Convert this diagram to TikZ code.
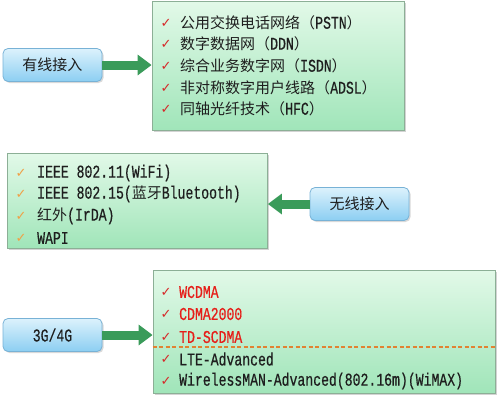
\documentclass[tikz,border=0pt]{standalone}
\usepackage{fontspec}
\setmainfont{Liberation Mono}[FakeStretch=0.73,FakeBold=0.5]
\newfontfamily\cjk{Noto Sans CJK SC}
\newfontfamily\symf{DejaVu Sans}
\usetikzlibrary{arrows.meta,shadows}
\definecolor{boxtop}{RGB}{226,249,232}
\definecolor{boxbot}{RGB}{160,229,185}
\definecolor{boxline}{RGB}{140,175,150}
\definecolor{bluetop}{RGB}{220,242,252}
\definecolor{bluebot}{RGB}{140,206,242}
\definecolor{blueline}{RGB}{120,178,214}
\definecolor{arrowgreen}{RGB}{58,155,90}
\definecolor{chkred}{RGB}{214,40,40}
\definecolor{chkorange}{RGB}{240,160,70}
\definecolor{txtred}{RGB}{230,30,25}
\definecolor{dashor}{RGB}{225,130,50}
\definecolor{txt}{RGB}{30,30,30}
\newcommand\zh[1]{{\cjk\fontsize{15}{16}\selectfont #1}}
\begin{document}
\begin{tikzpicture}[x=1pt,y=-1pt,
 listbox/.style={draw=boxline, line width=0.8pt, top color=boxtop, bottom color=boxbot,
   drop shadow={shadow xshift=1.5pt,shadow yshift=-1.5pt,opacity=0.35}, inner sep=0pt},
 catbox/.style={draw=blueline, line width=0.8pt, rounded corners=5pt, top color=bluetop,
   bottom color=bluebot, minimum width=99pt, minimum height=33pt, inner sep=0pt,
   drop shadow={shadow xshift=1.5pt,shadow yshift=-1.5pt,opacity=0.3}, text=txt,
   font=\fontsize{18}{19}\selectfont},
 bigarrow/.style={draw=arrowgreen, line width=9pt, -{Triangle[length=14pt,width=20pt]}},
 item/.style={anchor=west, inner sep=0pt, text=txt, font=\fontsize{18}{19}\selectfont},
 reditem/.style={item, text=txtred},
 chk/.style={inner sep=0pt, font=\symf\fontsize{13}{14}\selectfont, text=chkred},
 ochk/.style={chk, text=chkorange},
]
\useasboundingbox (0,0) rectangle (499,405);

% list boxes
\node[listbox, minimum width=252pt, minimum height=129pt] (b1) at (278,66) {};
\node[listbox, minimum width=260pt, minimum height=95pt] (b2) at (137.5,200.5) {};
\node[listbox, minimum width=342pt, minimum height=123pt] (b3) at (324,331.5) {};

% category nodes
\node[catbox] (n1) at (52.5,65) {\zh{有线接入}};
\node[catbox] (n2) at (359.5,204) {\zh{无线接入}};
\node[catbox] (n3) at (52.5,335) {3G/4G};

% arrows
\draw[bigarrow] (n1.east) -- (n1.east -| b1.west);
\draw[bigarrow] (n2.west) -- (n2.west -| b2.east);
\draw[bigarrow] (n3.east) -- (n3.east -| b3.west);

% box 1 items
\foreach \y/\k in {23/1,44/2,66/3,88/4,109/5} \node[chk] (c1\k) at (166,\y) {✓};
\node[item] (t11) at (180,23) {\zh{公用交换电话网络（}PSTN\zh{）}};
\node[item] (t12) at (180,44) {\zh{数字数据网（}DDN\zh{）}};
\node[item] (t13) at (180,66) {\zh{综合业务数字网（}ISDN\zh{）}};
\node[item] (t14) at (180,88) {\zh{非对称数字用户线路（}ADSL\zh{）}};
\node[item] (t15) at (180,109) {\zh{同轴光纤技术（}HFC\zh{）}};

% box 2 items
\foreach \y/\k in {173/1,194/2,216/3,238/4} \node[ochk] (c2\k) at (21,\y) {✓};
\node[item] (t21) at (37,173) {IEEE 802.11(WiFi)};
\node[item] (t22) at (37,194) {IEEE 802.15(\zh{蓝牙}Bluetooth)};
\node[item] (t23) at (37,216) {\zh{红外}(IrDA)};
\node[item] (t24) at (37,238) {WAPI};

% box 3 items
\foreach \y/\k in {292/1,314/2,337/3,359/4,381/5} \node[chk] (c3\k) at (166,\y) {✓};
\node[reditem] (t31) at (179,292) {WCDMA};
\node[reditem] (t32) at (179,314) {CDMA2000};
\node[reditem] (t33) at (179,337) {TD-SCDMA};
\node[item] (t34) at (179,359) {LTE-Advanced};
\node[item] (t35) at (179,381) {WirelessMAN-Advanced(802.16m)(WiMAX)};

% dashed separator
\draw[dashor, line width=1.2pt, dash pattern=on 4pt off 2.5pt] (b3.west |- 0,347) -- (b3.east |- 0,347);
\end{tikzpicture}
\end{document}
